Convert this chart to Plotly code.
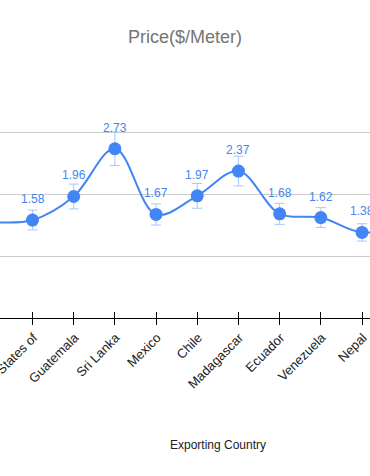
import plotly.graph_objects as go

# Categories (first and last are cut off at the chart edges in the reference)
countries = ["\u2026", "United States of", "Guatemala", "Sri Lanka", "Mexico", "Chile",
             "Madagascar", "Ecuador", "Venezuela", "Nepal", "\u2026 "]
prices = [1.55, 1.58, 1.96, 2.73, 1.67, 1.97, 2.37, 1.68, 1.62, 1.38, 1.50]
errors = [0.155, 0.16, 0.20, 0.27, 0.17, 0.20, 0.24, 0.17, 0.16, 0.14, 0.15]
y_ticks = [0, 1, 2, 3, 4]

BLUE = "#4285f4"
FONT = "Arial, Liberation Sans, sans-serif"

fig = go.Figure()
fig.add_trace(go.Scatter(
    x=countries, y=prices,
    mode="lines+markers",
    line=dict(color=BLUE, width=2, shape="spline", smoothing=1),
    marker=dict(color=BLUE, size=13),
    error_y=dict(type="data", array=errors, visible=True,
                 color="#a8c7fa", thickness=1, width=5),
    hoverinfo="skip", showlegend=False, cliponaxis=True,
))
# overlay axis to draw tick marks on the inner side too (crossing ticks)
fig.add_trace(go.Scatter(
    x=countries, y=[None] * len(countries), xaxis="x2", mode="markers",
    marker=dict(opacity=0), hoverinfo="skip", showlegend=False,
))

for c, v in zip(countries, prices):
    fig.add_annotation(x=c, y=v, text=f"{v:.2f}", showarrow=False, yshift=21,
                       font=dict(family=FONT, size=12, color=BLUE))

fig.add_annotation(xref="paper", yref="paper", x=218 / 370, y=-(445 - 318) / 249,
                   xanchor="center", yanchor="middle",
                   text="Exporting Country", showarrow=False,
                   font=dict(family=FONT, size=12, color="#222222"))

xr = [0.211, 9.194]
fig.update_layout(
    width=370, height=476,
    margin=dict(l=0, r=0, t=69, b=158, pad=0),
    paper_bgcolor="white", plot_bgcolor="white",
    title=dict(text="Price($/Meter)", x=0.5, xanchor="center",
               y=1 - 37 / 476, yanchor="middle", automargin=False,
               font=dict(family=FONT, size=18, color="#757575")),
    xaxis=dict(range=xr, showgrid=False, showline=True, linecolor="black", linewidth=1,
               ticks="outside", ticklen=6, tickcolor="black", tickwidth=1,
               tickangle=-45, tickfont=dict(family=FONT, size=13, color="#222222"),
               ticklabelshift=1,
               zeroline=False, fixedrange=True, automargin=False),
    xaxis2=dict(range=xr, overlaying="x", anchor="y", side="bottom",
                showgrid=False, showline=False, showticklabels=False,
                ticks="inside", ticklen=6, tickcolor="black", tickwidth=1,
                zeroline=False, automargin=False),
    yaxis=dict(range=[0, 4 + 1 / 62], tickvals=y_ticks, showticklabels=False,
               showgrid=True, gridcolor="#cccccc", gridwidth=1,
               zeroline=False, showline=False, ticks="", automargin=False),
)

fig.write_html("out.html", config={"displayModeBar": False},
               post_script="document.body.style.margin='0';")
